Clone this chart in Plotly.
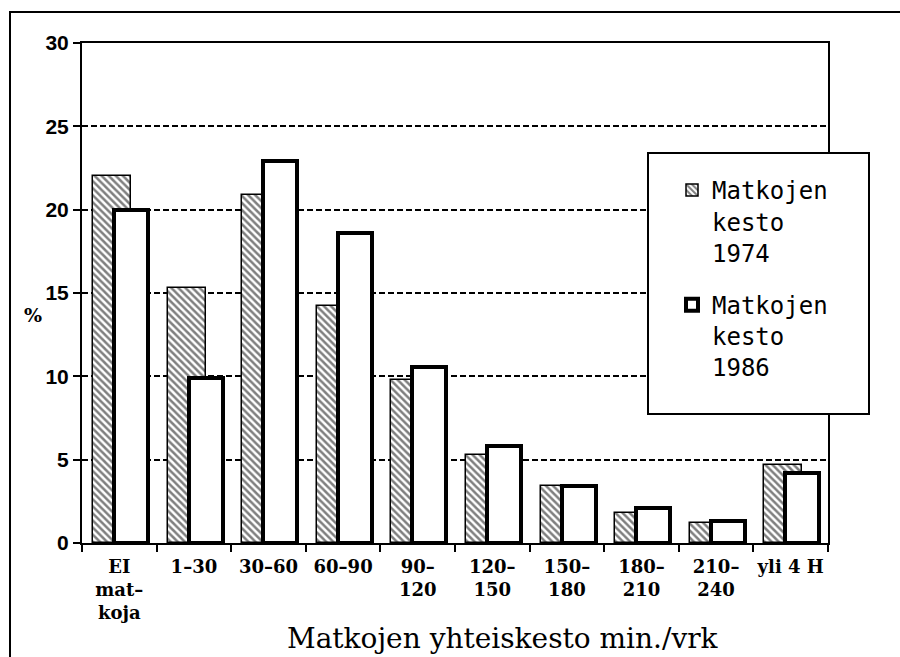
import plotly.graph_objects as go

categories = ["EI<br>mat–<br>koja", "1–30", "30–60", "60–90", "90–<br>120",
              "120–<br>150", "150–<br>180", "180–<br>210", "210–<br>240", "yli 4 H"]
kesto_1974 = [22.0, 15.3, 20.9, 14.2, 9.8, 5.3, 3.45, 1.8, 1.2, 4.7]
kesto_1986 = [20.0, 9.9, 22.9, 18.6, 10.55, 5.8, 3.4, 2.1, 1.3, 4.2]
y_ticks = [0, 5, 10, 15, 20, 25, 30]
name_1974 = "Matkojen<br>kesto<br>1974"
name_1986 = "Matkojen<br>kesto<br>1986"
x_title = "Matkojen yhteiskesto min./vrk"
y_title = "%"

W, H = 900, 657
L, R, T, B = 82, 828, 43, 543

def px(x):
    return (x - L) / (R - L)

def py(y):
    return (B - y) / (B - T)

fig = go.Figure()
fig.add_trace(go.Bar(
    x=categories, y=kesto_1974, name=name_1974, legendgroup="a",
    offset=-0.353, width=0.51,
    marker=dict(color="white",
                pattern=dict(shape="\\", fgcolor="black", bgcolor="white", size=5, solidity=0.5),
                line=dict(color="black", width=1.5)),
))
fig.add_trace(go.Bar(
    x=categories, y=kesto_1986, name=name_1986, legendgroup="b",
    offset=-0.07, width=0.455,
    marker=dict(color="white", line=dict(color="black", width=4)),
))

shapes = [
    # outer page frame
    dict(type="rect", xref="paper", yref="paper",
         x0=px(10), x1=px(910), y0=py(680), y1=py(12),
         line=dict(color="black", width=2), fillcolor="rgba(0,0,0,0)", layer="below"),
    # legend box
    dict(type="rect", xref="paper", yref="paper",
         x0=px(648), x1=px(869), y0=py(414), y1=py(153),
         line=dict(color="black", width=2), fillcolor="white", layer="above"),
]

fig.update_layout(
    width=W, height=H,
    margin=dict(l=L, r=W - R, t=T, b=H - B, autoexpand=False),
    paper_bgcolor="white", plot_bgcolor="white",
    barmode="overlay", bargap=0,
    showlegend=True,
    legend=dict(x=px(672), y=py(168), xanchor="left", yanchor="top",
                bgcolor="rgba(0,0,0,0)", borderwidth=0,
                font=dict(family="DejaVu Sans Mono", size=24, color="black"),
                valign="top", tracegroupgap=18, traceorder="grouped"),
    shapes=shapes,
    annotations=[
        dict(text=x_title, xref="paper", yref="paper",
             x=px(503), y=py(638), xanchor="center", yanchor="middle",
             showarrow=False,
             font=dict(family="DejaVu Serif", size=28, color="black")),
        dict(text=y_title, xref="paper", yref="paper",
             x=px(33), y=py(315), xanchor="center", yanchor="middle",
             showarrow=False,
             font=dict(family="DejaVu Serif", size=19, color="black", weight="bold")),
    ],
)

fig.update_xaxes(
    type="category", showline=True, linecolor="black", linewidth=2, mirror=True,
    ticks="outside", tickson="boundaries", ticklen=7, tickwidth=2, tickcolor="black",
    showgrid=False, ticklabelstandoff=6, tickangle=0,
    tickfont=dict(family="DejaVu Serif", size=18, color="black", weight="bold"),
)
fig.update_yaxes(
    range=[0, 30], tickvals=y_ticks, showline=True, linecolor="black", linewidth=2,
    mirror=True, ticks="outside", ticklen=7, tickwidth=2, tickcolor="black",
    showgrid=True, gridcolor="black", gridwidth=1.5, griddash="6px,3px", zeroline=False,
    tickfont=dict(family="Liberation Sans", size=21, color="black", weight="bold"),
)

fig.write_html("out.html", config={"displayModeBar": False},
               post_script="document.body.style.margin='0';")
